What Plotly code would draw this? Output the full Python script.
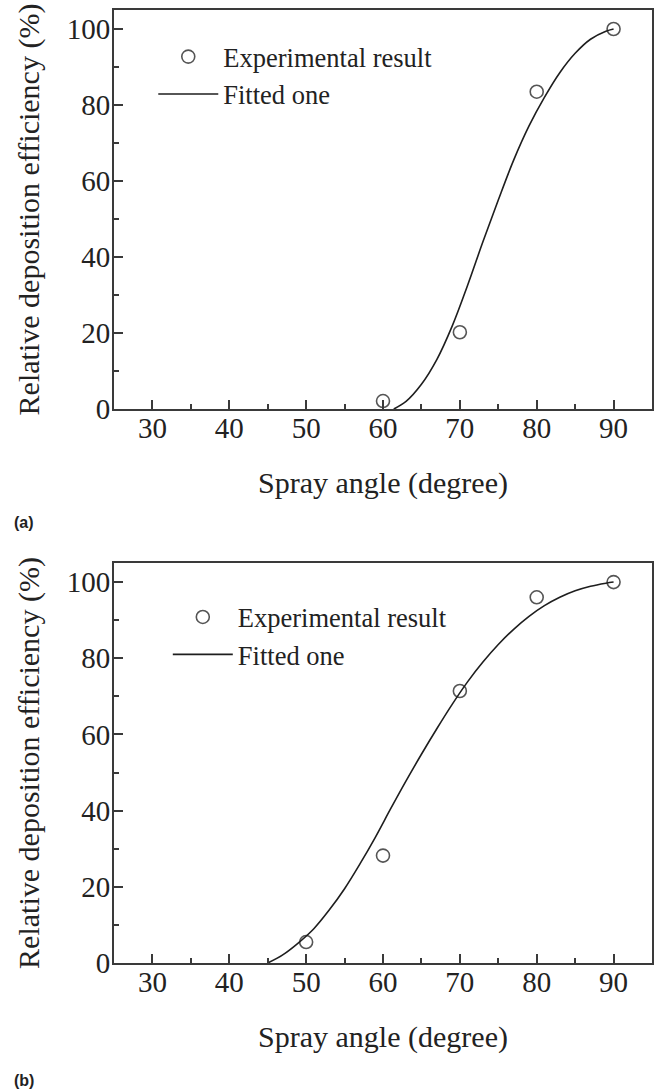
import plotly.graph_objects as go

# ---- data ----
angle_a = [60, 70, 80, 90]
eff_a = [2.1, 20.2, 83.5, 100.0]
fit_x_a = [61.4, 63, 65, 67, 69, 71, 73, 75, 77, 79, 81, 83, 85, 87, 89, 90]
fit_y_a = [0.0, 2.0, 6.5, 13.0, 21.8, 32.5, 44.0, 55.0, 65.5, 74.5, 82.0, 88.5, 93.6, 97.3, 99.4, 100.0]

angle_b = [50, 60, 70, 80, 90]
eff_b = [5.5, 28.2, 71.4, 96.0, 100.0]
fit_x_b = [45, 47, 49, 51, 53, 55, 57, 59, 61, 63, 65, 67, 69, 71, 73, 75, 77, 79, 81, 83, 85, 87, 89, 90]
fit_y_b = [0.0, 2.2, 5.3, 9.0, 13.9, 19.5, 26.0, 33.0, 40.5, 47.8, 54.8, 61.5, 67.9, 73.8, 79.0, 83.6,
           87.6, 91.0, 93.8, 96.0, 97.7, 98.9, 99.7, 100.0]

x_ticks = [30, 40, 50, 60, 70, 80, 90]
y_ticks = [0, 20, 40, 60, 80, 100]
x_title = "Spray angle (degree)"
y_title = "Relative deposition efficiency (%)"
panel_labels = ["(a)", "(b)"]

SERIF = "Liberation Serif"
AX = "#3a3a3a"

fig = go.Figure()
marker_style = dict(symbol="circle-open", size=13, color="#555555", line=dict(width=1.6, color="#555555"))
line_style = dict(color="#1e1e1e", width=1.6, shape="spline", smoothing=1.0)

fig.add_trace(go.Scatter(x=angle_a, y=eff_a, mode="markers", name="Experimental result",
                         marker=marker_style, xaxis="x", yaxis="y", legend="legend"))
fig.add_trace(go.Scatter(x=fit_x_a, y=fit_y_a, mode="lines", name="Fitted one",
                         line=line_style, xaxis="x", yaxis="y", legend="legend"))
fig.add_trace(go.Scatter(x=angle_b, y=eff_b, mode="markers", name="Experimental result",
                         marker=marker_style, xaxis="x2", yaxis="y2", legend="legend2"))
fig.add_trace(go.Scatter(x=fit_x_b, y=fit_y_b, mode="lines", name="Fitted one",
                         line=line_style, xaxis="x2", yaxis="y2", legend="legend2"))

def xax(anchor):
    return dict(range=[25, 95], tickvals=x_ticks, ticks="inside", ticklen=9, tickwidth=1.5, tickcolor=AX,
                minor=dict(dtick=5, tick0=25, ticks="inside", ticklen=5, tickwidth=1.5, tickcolor=AX),
                showline=True, linecolor=AX, linewidth=2, mirror=True, showgrid=False, zeroline=False,
                tickfont=dict(family=SERIF, size=29, color="#222"), ticklabelstandoff=-8,
                title=dict(text=x_title, font=dict(family=SERIF, size=30, color="#222"), standoff=29),
                anchor=anchor)

def yax(domain, anchor):
    return dict(range=[0, 105], tickvals=y_ticks, ticks="inside", ticklen=9, tickwidth=1.5, tickcolor=AX,
                minor=dict(dtick=10, tick0=0, ticks="inside", ticklen=5, tickwidth=1.5, tickcolor=AX),
                showline=True, linecolor=AX, linewidth=2, mirror=True, showgrid=False, zeroline=False,
                tickfont=dict(family=SERIF, size=29, color="#222"), ticklabelstandoff=-4,
                title=dict(text=y_title, font=dict(family=SERIF, size=30, color="#222"), standoff=18),
                domain=domain, anchor=anchor)

legend_common = dict(font=dict(family=SERIF, size=26.5, color="#222"), itemwidth=60,
                     bgcolor="rgba(0,0,0,0)", xanchor="left", yanchor="top", tracegroupgap=0)

fig.update_layout(
    width=656, height=1091,
    margin=dict(l=114, r=2, t=10, b=128),
    paper_bgcolor="white", plot_bgcolor="white",
    xaxis=xax("y"), yaxis=yax([0.5813, 1.0], "x"),
    xaxis2=xax("y2"), yaxis2=yax([0.0, 0.4197], "x2"),
    legend=dict(x=0.073, y=0.976, **legend_common),
    legend2=dict(x=0.100, y=0.388, **legend_common),
    showlegend=True,
    annotations=[
        dict(text="<b>" + panel_labels[0] + "</b>", xref="paper", yref="paper", x=-0.19, y=0.4617,
             xanchor="left", yanchor="middle", showarrow=False,
             font=dict(family="Liberation Sans", size=16, color="#222")),
        dict(text="<b>" + panel_labels[1] + "</b>", xref="paper", yref="paper", x=-0.19, y=-0.1228,
             xanchor="left", yanchor="middle", showarrow=False,
             font=dict(family="Liberation Sans", size=16, color="#222")),
    ],
)

fig.write_html("out.html")
